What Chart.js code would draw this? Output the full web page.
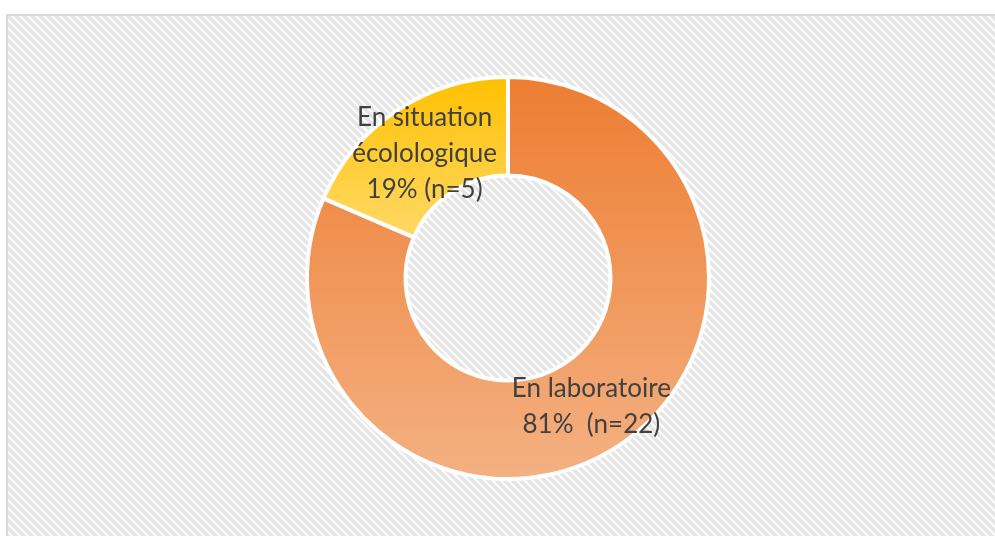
<!DOCTYPE html>
<html>
<head>
<meta charset="utf-8">
<script src="https://cdn.jsdelivr.net/npm/chart.js@4/dist/chart.umd.min.js"></script>
<style>
  html, body { margin: 0; padding: 0; background: #fff; }
  #wrap { width: 995px; height: 536px; position: relative; }
</style>
</head>
<body>
<div id="wrap"><canvas id="donut"></canvas></div>
<script>
// categories and counts
const categories = ["En laboratoire", "En situation écolologique"];
const counts = [22, 5];
// text drawn inside each slice (the percent line is built from the counts)
const labelLines = [["En laboratoire"], ["En situation", "écolologique"]];
const percentSeparator = ["  ", " "];

// top / bottom colours of each slice's vertical gradient
const topColors = ["#ED7D31", "#FFC000"];
const bottomColors = ["#F4B183", "#FFD966"];

const total = counts.reduce((acc, v) => acc + v, 0);

// striped fill used behind the chart
function makeStripes() {
  const tile = document.createElement("canvas");
  tile.width = 8;
  tile.height = 8;
  const t = tile.getContext("2d");
  t.fillStyle = "#ffffff";
  t.fillRect(0, 0, 8, 8);
  t.strokeStyle = "#e5e5e5";
  t.lineWidth = 3.6;
  [-8, 0, 8].forEach((dx) => {
    t.beginPath();
    t.moveTo(dx - 2, -2);
    t.lineTo(dx + 10, 10);
    t.stroke();
  });
  return tile;
}
const stripeTile = makeStripes();

const frameBackground = {
  id: "frameBackground",
  beforeDraw(chart) {
    const ctx = chart.ctx;
    ctx.save();
    ctx.fillStyle = "#ffffff";
    ctx.fillRect(0, 0, chart.width, chart.height);
    ctx.fillStyle = ctx.createPattern(stripeTile, "repeat");
    ctx.fillRect(7, 15, chart.width, chart.height);
    ctx.strokeStyle = "#d9d9d9";
    ctx.lineWidth = 2;
    ctx.strokeRect(7, 15, chart.width + 10, chart.height + 10);
    ctx.restore();
  }
};

// vertical gradient spanning the slice's own vertical extent
function sliceGradient(context) {
  const chart = context.chart;
  const i = context.dataIndex;
  const area = chart.chartArea;
  if (!area || i === undefined) return topColors[i || 0];
  const cx = (area.left + area.right) / 2;
  const cy = (area.top + area.bottom) / 2;
  const r = Math.min(area.width, area.height) / 2;
  const ri = r * 0.51;
  const before = counts.slice(0, i).reduce((a, v) => a + v, 0);
  const a0 = -Math.PI / 2 + 2 * Math.PI * before / total;
  const a1 = a0 + 2 * Math.PI * counts[i] / total;
  const ys = [];
  for (let k = 0; k <= 60; k++) {
    const a = a0 + (a1 - a0) * k / 60;
    ys.push(cy + r * Math.sin(a), cy + ri * Math.sin(a));
  }
  const g = chart.ctx.createLinearGradient(0, Math.min(...ys), 0, Math.max(...ys));
  g.addColorStop(0, topColors[i]);
  g.addColorStop(1, bottomColors[i]);
  return g;
}

const sliceLabels = {
  id: "sliceLabels",
  afterDatasetsDraw(chart) {
    const ctx = chart.ctx;
    const arcs = chart.getDatasetMeta(0).data;
    ctx.save();
    ctx.font = "26px Lato, 'Open Sans', sans-serif";
    ctx.fillStyle = "#404040";
    ctx.textAlign = "center";
    ctx.textBaseline = "middle";
    arcs.forEach((arc, i) => {
      const pos = arc.tooltipPosition();
      const pct = Math.round(100 * counts[i] / total);
      const lines = labelLines[i].concat([pct + "%" + percentSeparator[i] + "(n=" + counts[i] + ")"]);
      const lh = 36;
      const y0 = pos.y - (lines.length - 1) * lh / 2 + 2;
      lines.forEach((line, k) => ctx.fillText(line, pos.x, y0 + k * lh));
    });
    ctx.restore();
  }
};

new Chart(document.getElementById("donut"), {
  type: "doughnut",
  data: {
    labels: categories,
    datasets: [{
      data: counts,
      backgroundColor: sliceGradient,
      borderColor: "#ffffff",
      borderWidth: 4,
      hoverOffset: 0
    }]
  },
  options: {
    responsive: true,
    maintainAspectRatio: false,
    animation: false,
    cutout: "51%",
    layout: { padding: { top: 75, bottom: 55, left: 21, right: 0 } },
    plugins: {
      legend: { display: false },
      tooltip: { enabled: false }
    }
  },
  plugins: [frameBackground, sliceLabels]
});
</script>
</body>
</html>
